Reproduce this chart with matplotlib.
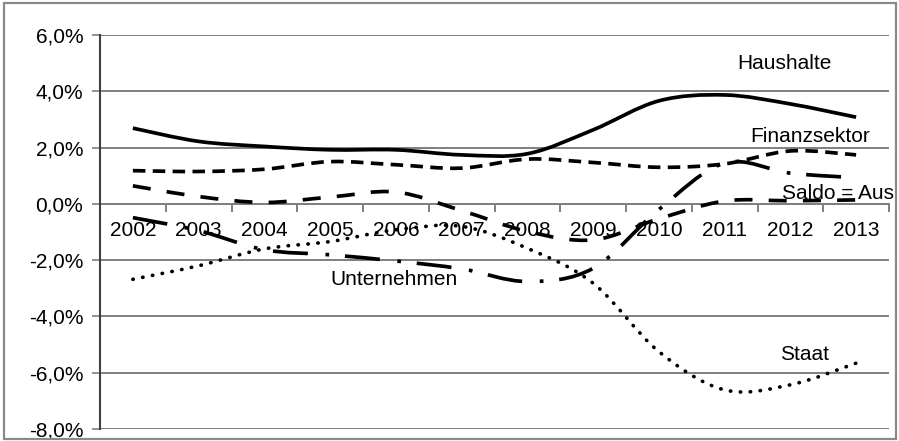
import numpy as np
import matplotlib
matplotlib.use("Agg")
import matplotlib.pyplot as plt
from matplotlib.path import Path
from matplotlib.patches import PathPatch, Rectangle

plt.rcParams['font.family'] = ['Liberation Sans', 'DejaVu Sans']

# Finanzierungssalden der Sektoren, in % des BIP
jahre = ['2002', '2003', '2004', '2005', '2006', '2007',
         '2008', '2009', '2010', '2011', '2012', '2013']
haushalte = [2.69, 2.22, 2.04, 1.92, 1.92, 1.74, 1.78, 2.63, 3.66, 3.87, 3.55, 3.08]
finanzsektor = [1.18, 1.15, 1.23, 1.50, 1.39, 1.27, 1.59, 1.47, 1.30, 1.42, 1.88, 1.74]
ausland = [0.64, 0.26, 0.05, 0.24, 0.42, -0.24, -0.98, -1.28, -0.53, 0.10, 0.11, 0.14]
unternehmen = [-0.49, -0.95, -1.63, -1.81, -2.03, -2.31, -2.76, -2.29, -0.20, 1.45, 1.09, 0.93]
staat = [-2.68, -2.20, -1.60, -1.34, -0.92, -0.80, -1.58, -2.82, -5.25, -6.61, -6.43, -5.66]

yticks = [-8, -6, -4, -2, 0, 2, 4, 6]


def smooth_path(x, y):
    # Bezier-Kurve durch alle Punkte (wie "geglättete Linie")
    p = np.column_stack([x, y]).astype(float)
    n = len(p)
    verts = [p[0]]
    codes = [Path.MOVETO]
    for i in range(n - 1):
        p0 = p[i - 1] if i > 0 else p[i]
        p3 = p[i + 2] if i + 2 < n else p[i + 1]
        c1 = p[i] + (p[i + 1] - p0) / 6.0
        c2 = p[i + 1] - (p3 - p[i]) / 6.0
        verts += [c1, c2, p[i + 1]]
        codes += [Path.CURVE4] * 3
    return Path(verts, codes)


fig = plt.figure(figsize=(8.99, 4.41), dpi=100)
ax = fig.add_axes([100 / 899, 12 / 441, 789 / 899, 394 / 441])

xs = np.arange(len(jahre))
reihen = [
    (haushalte, '-', 'butt'),
    (finanzsektor, (0, (3.4, 2.0)), 'butt'),
    (ausland, (0, (4.9, 4.4)), 'butt'),
    (unternehmen, (0, (9.5, 4.8, 1, 4.3)), 'butt'),
    (staat, (0, (0.1, 2.6)), 'round'),
]
for werte, ls, cap in reihen:
    patch = PathPatch(smooth_path(xs, werte), fill=False, edgecolor='black',
                      linewidth=2.65, linestyle=ls, zorder=3)
    patch.set_capstyle(cap)
    ax.add_patch(patch)

ax.set_xlim(-0.5, len(jahre) - 0.5)
ax.set_ylim(-8, 6)
ax.set_yticks(yticks)
ax.set_yticklabels([('%.1f%%' % v).replace('.', ',') for v in yticks])
ax.yaxis.grid(True, color='#7f7f7f', linewidth=1.4)
ax.set_axisbelow(True)
ax.tick_params(axis='y', length=6, width=1.2, color='#7f7f7f', labelsize=15, pad=6)
ax.set_xticks([])

for s in ['top', 'right', 'bottom']:
    ax.spines[s].set_visible(False)
ax.spines['left'].set_color('#404040')
ax.spines['left'].set_linewidth(1.5)

# Kategorienachse bei 0 mit Teilstrichen zwischen den Jahren
ax.axhline(0, color='#7f7f7f', linewidth=1.4, zorder=2)
for b in np.arange(-0.5, len(jahre), 1.0)[1:]:
    ax.plot([b, b], [0, -0.25], color='#7f7f7f', linewidth=1.4, zorder=2,
            clip_on=False)
for i, j in enumerate(jahre):
    ax.text(i, -0.93, j, ha='center', va='center', fontsize=15, zorder=1)

ax.text(9.19, 5.0, 'Haushalte', ha='left', va='center', fontsize=15)
ax.text(9.39, 2.4, 'Finanzsektor', ha='left', va='center', fontsize=15)
ax.text(9.87, 0.38, 'Saldo = Aus', ha='left', va='center', fontsize=15, zorder=4)
ax.text(3.0, -2.7, 'Unternehmen', ha='left', va='center', fontsize=15)
ax.text(9.84, -5.35, 'Staat', ha='left', va='center', fontsize=15)

rahmen = Rectangle((4 / 899, 2 / 441), 892 / 899, 436 / 441, transform=fig.transFigure,
                   fill=False, edgecolor='#8a8a8a', linewidth=1.6)
fig.patches.append(rahmen)

fig.savefig('out.png', dpi=100)
